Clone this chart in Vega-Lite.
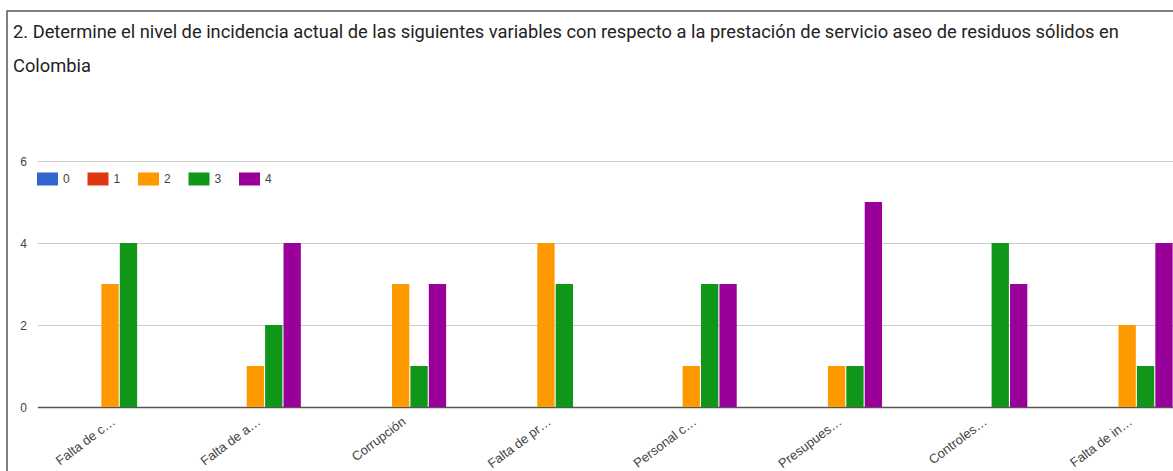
{
  "$schema": "https://vega.github.io/schema/vega-lite/v6.json",
  "autosize": {"type": "none"},
  "padding": {"left": 7, "top": 11, "right": 0, "bottom": 0},
  "width": 1166,
  "height": 460,
  "title": {
    "text": [
      "2. Determine el nivel de incidencia actual de las siguientes variables con respecto a la prestación de servicio aseo de residuos sólidos en",
      "Colombia"
    ],
    "anchor": "start",
    "frame": "group",
    "orient": "top",
    "offset": -65,
    "dx": 6,
    "font": "Roboto",
    "fontSize": 18.3,
    "fontWeight": "normal",
    "color": "#222222",
    "lineHeight": 34
  },
  "data": {
    "values": [
      {"variable": "Falta de c…", "nivel": "0", "respuestas": 0},
      {"variable": "Falta de c…", "nivel": "1", "respuestas": 0},
      {"variable": "Falta de c…", "nivel": "2", "respuestas": 3},
      {"variable": "Falta de c…", "nivel": "3", "respuestas": 4},
      {"variable": "Falta de c…", "nivel": "4", "respuestas": 0},
      {"variable": "Falta de a…", "nivel": "0", "respuestas": 0},
      {"variable": "Falta de a…", "nivel": "1", "respuestas": 0},
      {"variable": "Falta de a…", "nivel": "2", "respuestas": 1},
      {"variable": "Falta de a…", "nivel": "3", "respuestas": 2},
      {"variable": "Falta de a…", "nivel": "4", "respuestas": 4},
      {"variable": "Corrupción", "nivel": "0", "respuestas": 0},
      {"variable": "Corrupción", "nivel": "1", "respuestas": 0},
      {"variable": "Corrupción", "nivel": "2", "respuestas": 3},
      {"variable": "Corrupción", "nivel": "3", "respuestas": 1},
      {"variable": "Corrupción", "nivel": "4", "respuestas": 3},
      {"variable": "Falta de pr…", "nivel": "0", "respuestas": 0},
      {"variable": "Falta de pr…", "nivel": "1", "respuestas": 0},
      {"variable": "Falta de pr…", "nivel": "2", "respuestas": 4},
      {"variable": "Falta de pr…", "nivel": "3", "respuestas": 3},
      {"variable": "Falta de pr…", "nivel": "4", "respuestas": 0},
      {"variable": "Personal c…", "nivel": "0", "respuestas": 0},
      {"variable": "Personal c…", "nivel": "1", "respuestas": 0},
      {"variable": "Personal c…", "nivel": "2", "respuestas": 1},
      {"variable": "Personal c…", "nivel": "3", "respuestas": 3},
      {"variable": "Personal c…", "nivel": "4", "respuestas": 3},
      {"variable": "Presupues…", "nivel": "0", "respuestas": 0},
      {"variable": "Presupues…", "nivel": "1", "respuestas": 0},
      {"variable": "Presupues…", "nivel": "2", "respuestas": 1},
      {"variable": "Presupues…", "nivel": "3", "respuestas": 1},
      {"variable": "Presupues…", "nivel": "4", "respuestas": 5},
      {"variable": "Controles…", "nivel": "0", "respuestas": 0},
      {"variable": "Controles…", "nivel": "1", "respuestas": 0},
      {"variable": "Controles…", "nivel": "2", "respuestas": 0},
      {"variable": "Controles…", "nivel": "3", "respuestas": 4},
      {"variable": "Controles…", "nivel": "4", "respuestas": 3},
      {"variable": "Falta de in…", "nivel": "0", "respuestas": 0},
      {"variable": "Falta de in…", "nivel": "1", "respuestas": 0},
      {"variable": "Falta de in…", "nivel": "2", "respuestas": 2},
      {"variable": "Falta de in…", "nivel": "3", "respuestas": 1},
      {"variable": "Falta de in…", "nivel": "4", "respuestas": 4}
    ]
  },
  "mark": {"type": "bar", "clip": true},
  "encoding": {
    "x": {
      "field": "variable",
      "type": "nominal",
      "sort": null,
      "scale": {"range": [30.4, 1192.8], "paddingInner": 0.374, "paddingOuter": 0.187},
      "axis": {
        "title": null,
        "orient": "bottom",
        "offset": -64,
        "labelAngle": -37,
        "labelAlign": "right",
        "labelBaseline": "top",
        "labelPadding": 8,
        "labelFont": "Liberation Sans",
        "labelFontSize": 13,
        "labelColor": "#444444",
        "labelLimit": 200,
        "ticks": false,
        "domain": true,
        "domainColor": "#555555",
        "domainWidth": 1.5,
        "grid": false
      }
    },
    "xOffset": {
      "field": "nivel",
      "type": "nominal",
      "scale": {"domain": ["0", "1", "2", "3", "4"], "paddingInner": 0.06, "paddingOuter": 0}
    },
    "y": {
      "field": "respuestas",
      "type": "quantitative",
      "scale": {"domain": [0, 6], "range": [396, 150], "nice": false, "zero": true},
      "axis": {
        "title": null,
        "values": [0, 2, 4, 6],
        "offset": -30.4,
        "labelPadding": 11,
        "labelFont": "Liberation Sans",
        "labelFontSize": 12,
        "labelColor": "#444444",
        "ticks": false,
        "domain": false,
        "grid": true,
        "gridColor": "#cccccc",
        "gridWidth": 1
      }
    },
    "color": {
      "field": "nivel",
      "type": "nominal",
      "scale": {
        "domain": ["0", "1", "2", "3", "4"],
        "range": ["#3366cc", "#dc3912", "#ff9900", "#109618", "#990099"]
      },
      "legend": {
        "title": null,
        "orient": "none",
        "direction": "horizontal",
        "legendX": 30,
        "legendY": 157,
        "padding": 0,
        "symbolType": "M-1,-0.62H1V0.62H-1Z",
        "symbolSize": 441,
        "symbolStrokeWidth": 0,
        "labelFont": "Liberation Sans",
        "labelFontSize": 12,
        "labelColor": "#444444",
        "labelOffset": 5,
        "columnPadding": 17.5
      }
    }
  },
  "config": {
    "view": {
      "stroke": "#555555",
      "strokeWidth": 1.5,
      "strokeDash": [1166, 1626, 460, 10]
    },
    "bar": {"stroke": null}
  }
}
